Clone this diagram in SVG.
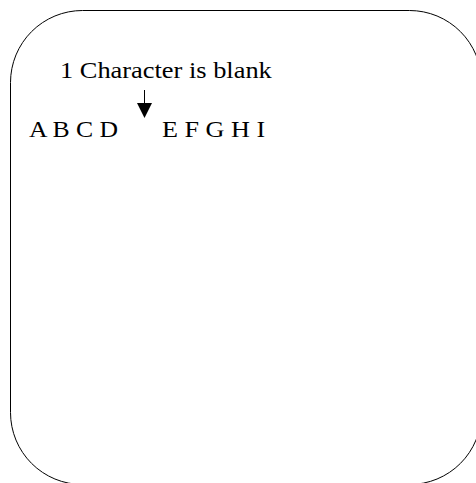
<svg xmlns="http://www.w3.org/2000/svg" width="476" height="483" viewBox="0 0 476 483">
<style>
.frame{fill:#ffffff;stroke:#000000;stroke-width:1}
.ln{stroke:#000000;stroke-width:1;fill:none}
</style>
<rect width="476" height="483" fill="#ffffff"/>
<g id="frame">
<rect class="frame" x="10.5" y="10.5" width="471" height="474" rx="72" ry="72"/>
</g>
<g id="label">
<text font-family="Liberation Serif" font-size="24" fill="#000000" transform="translate(60,77.5) scale(1.1,1)" x="0" y="0">1 Character is blank</text>
</g>
<g id="left-letters">
<text font-family="Liberation Serif" font-size="24" fill="#000000" transform="translate(29,137) scale(1.07,1)" x="0" y="0">A B C D</text>
</g>
<g id="right-letters">
<text font-family="Liberation Serif" font-size="24" fill="#000000" transform="translate(162,137) scale(1.09,1)" x="0" y="0">E F G H I</text>
</g>
<g id="connectors">
<line class="ln" x1="144.5" y1="90" x2="144.5" y2="104"/>
<path d="M137,103 L152,103 L144.5,118 Z" fill="#000000"/>
</g>
</svg>
